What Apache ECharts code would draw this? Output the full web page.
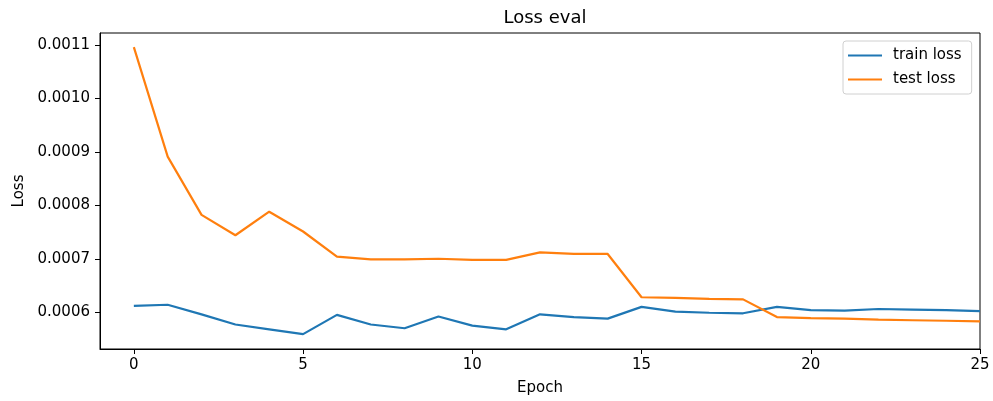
<!DOCTYPE html>
<html><head><meta charset="utf-8">
<script src="https://cdn.jsdelivr.net/npm/echarts@6/dist/echarts.min.js"></script>
<style>html,body{margin:0;padding:0;background:#fff}#c{width:993px;height:401px}</style>
</head><body><div id="c"></div>
<script>
const epochs = [0,1,2,3,4,5,6,7,8,9,10,11,12,13,14,15,16,17,18,19,20,21,22,23,24,25];
const trainLoss = [0.000612,0.000614,0.000596,0.000577,0.000568,0.000559,0.000595,0.000577,0.000570,0.000592,
  0.000575,0.000568,0.000596,0.000591,0.000588,0.000610,0.000601,0.000599,0.000598,0.000610,
  0.000604,0.000603,0.000606,0.000605,0.000604,0.000602];
const testLoss = [0.001096,0.000891,0.000782,0.000744,0.000788,0.000751,0.000704,0.000699,0.000699,0.000700,
  0.000698,0.000698,0.000712,0.000709,0.000709,0.000628,0.000627,0.000625,0.000624,0.000591,
  0.000589,0.000588,0.000586,0.000585,0.000584,0.000583];
const xTicks = [0,5,10,15,20,25];
const yTicks = [0.0006,0.0007,0.0008,0.0009,0.0010,0.0011];
const seriesNames = ['train loss','test loss'];
const colors = ['#1f77b4','#ff7f0e'];

const font = 'DejaVu Sans';
const chart = echarts.init(document.getElementById('c'));
chart.setOption({
  animation: false,
  backgroundColor: '#fff',
  title: {text: 'Loss eval', left: 540, textAlign: 'center', top: 4,
    textStyle: {fontFamily: font, fontSize: 18, fontWeight: 'normal', color: '#000'}},
  legend: {
    orient: 'vertical', left: 843, top: 41, data: seriesNames,
    icon: 'rect', itemWidth: 34, itemHeight: 2, itemGap: 9,
    padding: [7, 10, 7, 5],
    borderColor: '#d0d0d0', borderWidth: 1, borderRadius: 3, backgroundColor: '#fff',
    textStyle: {fontFamily: font, fontSize: 15, color: '#000', padding: [0, 0, 0, 6]}
  },
  grid: {left: 100, right: 13, top: 33, bottom: 50, show: true, borderColor: '#000', borderWidth: 1},
  xAxis: {
    type: 'value', min: -1, max: 25,
    name: 'Epoch', nameLocation: 'middle', nameGap: 32,
    nameTextStyle: {fontFamily: font, fontSize: 15, color: '#000'},
    axisLine: {show: true, onZero: false, lineStyle: {color: '#000'}},
    axisTick: {show: true, length: 5, customValues: xTicks, lineStyle: {color: '#000'}},
    axisLabel: {customValues: xTicks, margin: 9, fontFamily: font, fontSize: 15, color: '#000'},
    splitLine: {show: false}
  },
  yAxis: {
    type: 'value', min: 0.0005312, max: 0.0011223,
    name: 'Loss', nameLocation: 'middle', nameGap: 73, nameRotate: 90,
    nameTextStyle: {fontFamily: font, fontSize: 15, color: '#000'},
    axisLine: {show: true, onZero: false, lineStyle: {color: '#000'}},
    axisTick: {show: true, length: 5, customValues: yTicks, lineStyle: {color: '#000'}},
    axisLabel: {customValues: yTicks, margin: 10, fontFamily: font, fontSize: 15, color: '#000',
      formatter: v => v.toFixed(4)},
    splitLine: {show: false}
  },
  series: [
    {name: seriesNames[0], type: 'line', data: epochs.map((e,i)=>[e, trainLoss[i]]),
      showSymbol: false, color: colors[0], lineStyle: {width: 2.2, color: colors[0]}},
    {name: seriesNames[1], type: 'line', data: epochs.map((e,i)=>[e, testLoss[i]]),
      showSymbol: false, color: colors[1], lineStyle: {width: 2.2, color: colors[1]}}
  ]
});
</script></body></html>
